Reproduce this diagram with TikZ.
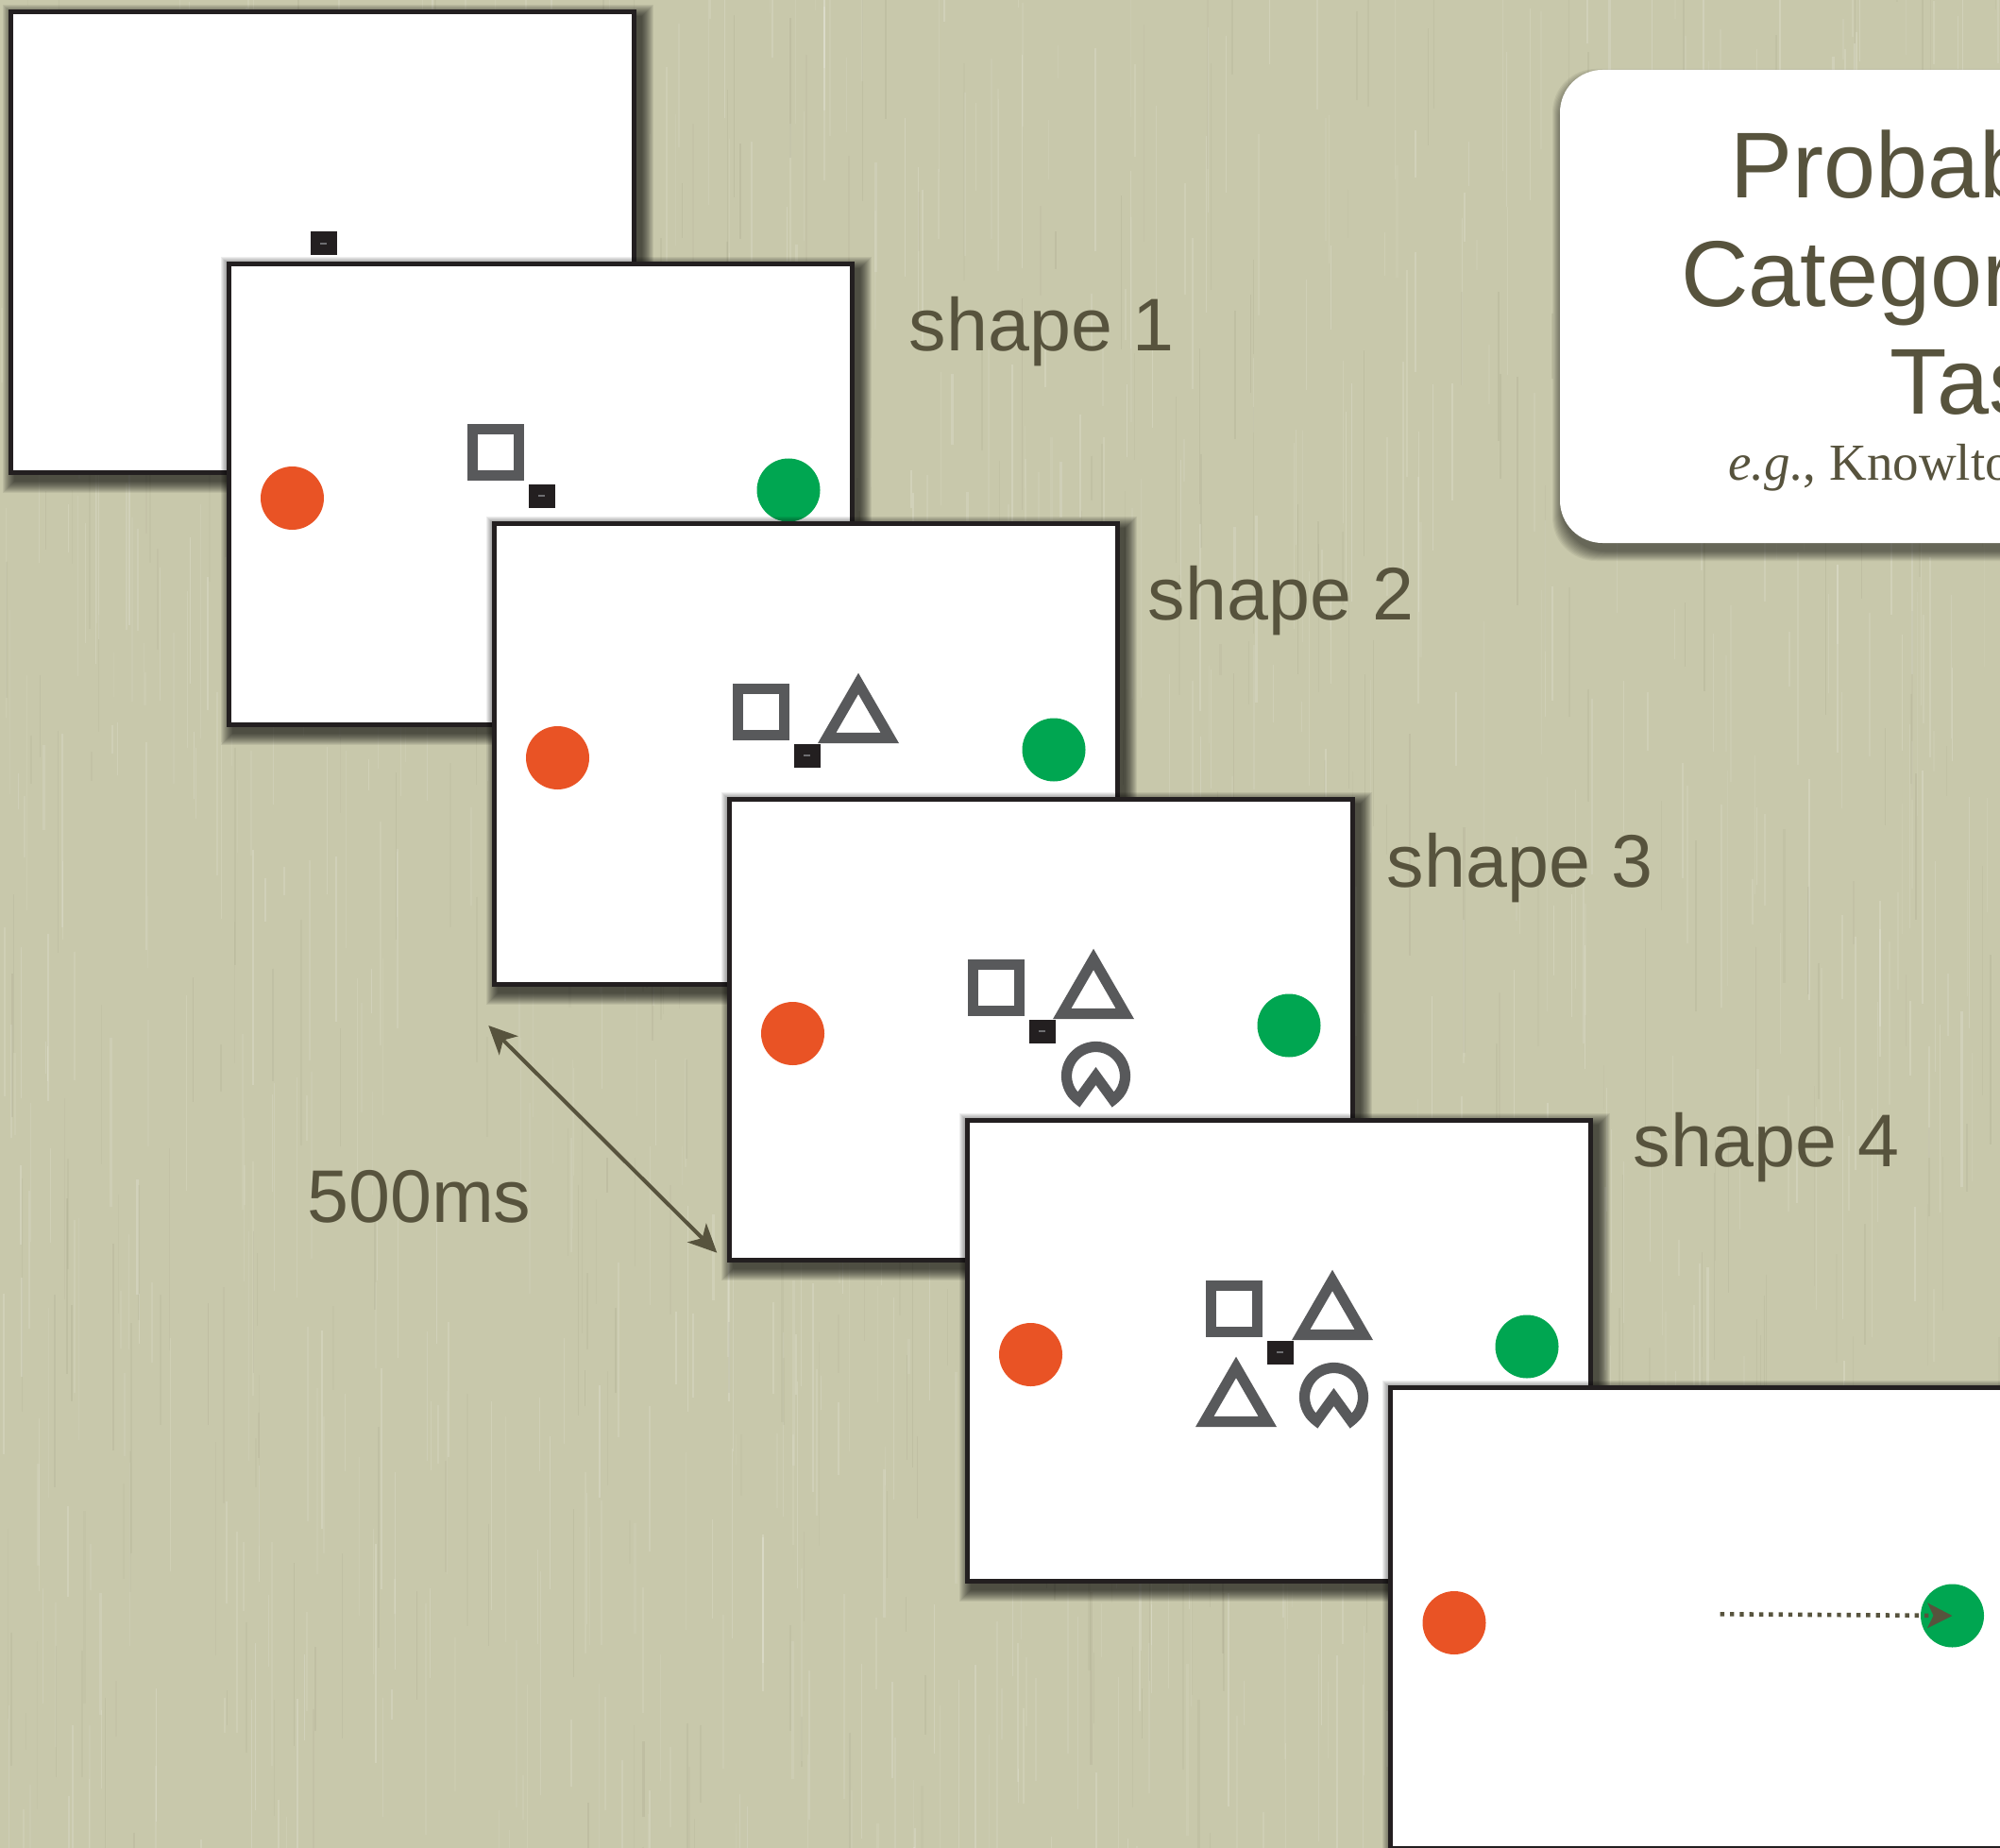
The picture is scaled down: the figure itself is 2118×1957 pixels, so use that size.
\documentclass[tikz,border=0pt]{standalone}
\usepackage{fontspec}
\setmainfont{Liberation Sans}
\newfontfamily\citefont{Liberation Serif}
\usetikzlibrary{arrows.meta}

\definecolor{paper}{RGB}{200,200,171}
\definecolor{ink}{RGB}{87,83,61}
\definecolor{framec}{RGB}{35,31,32}
\definecolor{shapec}{RGB}{88,89,91}
\definecolor{fixdash}{RGB}{110,110,113}
\definecolor{redc}{RGB}{233,83,37}
\definecolor{greenc}{RGB}{0,166,81}

\tikzset{
  slideborder/.style={draw=framec, line width=2.65pt},
  glyph/.style={draw=shapec, line width=5.6pt, line join=miter},
  dot/.style={circle, inner sep=0pt, minimum size=33.5pt},
  fixbox/.style={fill=framec, inner sep=0pt, minimum width=14pt, minimum height=12.5pt},
  cue/.style={text=ink, font=\fontsize{39.5}{47}\selectfont, anchor=base west, inner sep=0pt},
  titletext/.style={text=ink, font=\fontsize{49.5}{59}\selectfont, anchor=base west, inner sep=0pt},
  subtext/.style={text=ink, font=\citefont\fontsize{27.5}{33}\selectfont, anchor=base west, inner sep=0pt},
  timing/.style={draw=ink, line width=2pt, {Stealth[length=15pt,width=14pt,inset=4pt]}-{Stealth[length=15pt,width=14pt,inset=4pt]}},
  choice/.style={draw=ink, line width=2.3pt, dash pattern=on 2.2pt off 2.95pt, -{Stealth[length=13pt,width=13pt,inset=3pt]}},
}

% white screen with soft drop shadow, drawn in the local frame of a shifted scope
\newcommand\slidebase[1]{%
  \foreach \k in {0,...,12}{\fill[black,opacity=0.068] (6-\k,7-\k) rectangle (671+\k,500+\k);}
  \fill[white] (0,0) rectangle (665,493);
  \draw[slideborder] (2.65,2.65) rectangle (662.35,490.35);
  \coordinate (#1-nw) at (0,0);
  \coordinate (#1-sw) at (0,493);
}
\newcommand\fixmark[1]{%
  \node[fixbox] (#1-fix) at (333.5,248) {};
  \fill[fixdash] (330,247.2) rectangle (337,248.8);
}
\newcommand\responsedots[1]{%
  \node[dot, fill=redc] (#1-red) at (69.5,250.5) {};
  \node[dot, fill=greenc] (#1-green) at (595,242) {};
}
\newcommand\squareglyph{\draw[glyph] (260.5,177.5) rectangle (309.5,226.5);}
% triangle given by its centroid
\newcommand\triglyph[2]{\draw[glyph] (#1,#2-38.4) -- (#1+33.3,#2+19.2) -- (#1-33.3,#2+19.2) -- cycle;}
% ring with a wedge cut out at the bottom, edges running to the centre
\newcommand\ringglyph{\draw[glyph] (390.5,295.5) -- ++(126:31) arc[start angle=126,end angle=414,radius=31] -- cycle;}

\begin{document}
\begin{tikzpicture}[x=0.5pt,y=-0.5pt]
\useasboundingbox (0,0) rectangle (2118,1957);
\begin{scope}
\clip (0,0) rectangle (2118,1957);

% textured backdrop: fine vertical fibres
\fill[paper] (0,0) rectangle (2118,1957);
\pgfmathsetseed{1957}
\foreach \i in {1,...,1400}{
  \pgfmathsetmacro\px{rnd*2118}
  \pgfmathsetmacro\py{rnd*2057-100}
  \pgfmathsetmacro\pl{30+rnd*220}
  \pgfmathsetmacro\pw{0.3+rnd*0.9}
  \pgfmathsetmacro\po{0.06+rnd*0.12}
  \pgfmathtruncatemacro\pk{mod(\i,3)}
  \ifnum\pk=0\def\pc{ink}\def\pf{0.45}\else\def\pc{white}\def\pf{1}\fi
  \draw[\pc, line width=\pw pt, opacity=\po*\pf] (\px,\py) -- ++(0,\pl);
}

% title card
\foreach \k in {0,...,10}{\fill[black,opacity=0.055,rounded corners=23pt] (1654-\k,83-\k) rectangle (2700+\k,584+\k);}
\fill[white, rounded corners=22.5pt] (1652,74) rectangle (2700,575);
\node[titletext] (title1) at (1832,210) {Probabilistic};
\node[titletext] (title2) at (1780,325) {Categorization};
\node[titletext] (title3) at (2001,439) {Task};
\node[subtext] (cite) at (1830,509) {\textit{e.g.}, Knowlton};

% screen 0: fixation only
\begin{scope}[shift={(9,10)}]
  \slidebase{s0}
  \fixmark{s0}
\end{scope}

% screen 1
\begin{scope}[shift={(240,277)}]
  \slidebase{s1}
  \responsedots{s1}
  \squareglyph
  \fixmark{s1}
\end{scope}

% screen 2
\begin{scope}[shift={(521,552)}]
  \slidebase{s2}
  \responsedots{s2}
  \squareglyph
  \triglyph{388}{210.3}
  \fixmark{s2}
\end{scope}

% screen 3
\begin{scope}[shift={(770,844)}]
  \slidebase{s3}
  \responsedots{s3}
  \squareglyph
  \triglyph{388}{210.3}
  \ringglyph
  \fixmark{s3}
\end{scope}

% screen 4
\begin{scope}[shift={(1022,1184)}]
  \slidebase{s4}
  \responsedots{s4}
  \squareglyph
  \triglyph{389}{210.3}
  \triglyph{287}{302.3}
  \ringglyph
  \fixmark{s4}
\end{scope}

% screen 5: response
\begin{scope}[shift={(1470,1467)}]
  \slidebase{s5}
  \node[dot, fill=redc] (s5-red) at (70,251.5) {};
  \node[dot, fill=greenc] (s5-green) at (597.5,244) {};
  \coordinate (s5-go) at (351.7,242.3);
\end{scope}
\draw[choice] (s5-go) -- (s5-green.center);

% labels
\node[cue] (lab1) at (962.5,371.7) {shape 1};
\node[cue] (lab2) at (1215.5,656) {shape 2};
\node[cue] (lab3) at (1468.5,939) {shape 3};
\node[cue] (lab4) at (1729.5,1235) {shape 4};
\node[cue] (soa) at (325,1294) {500ms};

% inter-stimulus interval
\coordinate (soa-a) at (517.3,1086);
\coordinate (soa-b) at (759.3,1326.7);
\draw[timing] (soa-a) -- (soa-b);

\end{scope}
\end{tikzpicture}
\end{document}
